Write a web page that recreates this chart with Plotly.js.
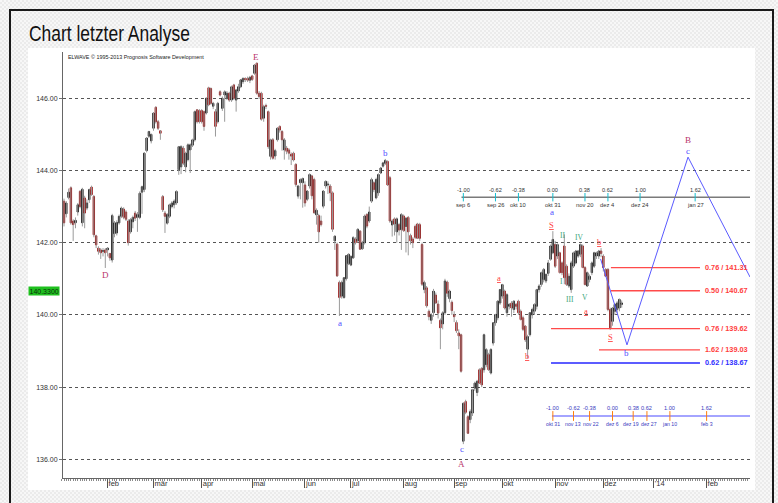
<!DOCTYPE html>
<html><head><meta charset="utf-8">
<script src="https://cdn.plot.ly/plotly-3.0.1.min.js"></script>
<style>
html,body{margin:0;padding:0;width:778px;height:503px;overflow:hidden;
 background:repeating-conic-gradient(#ebebeb 0 25%,#f7f7f7 0 50%) 0 0/4px 4px;}
#frame{position:absolute;left:9px;top:9px;width:761px;height:520px;border-left:2.5px solid #1a1a1a;border-top:2.5px solid #1a1a1a;border-right:2.5px solid #1a1a1a;}
#white{position:absolute;left:28px;top:48px;width:727px;height:442px;background:#fff;}
#chart{position:absolute;left:0;top:0;width:778px;height:503px;}
</style></head><body>
<div id="frame"></div><div id="white"></div><div id="chart"></div>
<script>
// ---- daily bars (one per weekday starting 2013-01-07) ----
const openP = [143.15,142.80,143.25,143.52,142.60,142.55,142.85,143.42,142.55,143.24,142.96,143.19,143.54,143.28,142.19,141.85,141.80,141.76,141.80,141.80,141.70,141.52,142.25,142.27,142.55,142.73,142.93,142.85,142.60,142.30,142.58,142.82,142.70,142.70,143.40,143.47,144.55,144.95,144.82,145.17,145.75,145.35,145.10,143.28,142.82,142.54,142.73,143.00,143.05,143.10,144.02,144.10,144.62,144.10,144.30,144.57,144.70,144.85,145.68,145.66,145.66,145.63,145.59,146.29,146.27,145.78,145.63,145.35,146.18,145.72,146.09,146.00,146.14,145.95,146.37,145.95,146.20,146.32,146.46,146.55,146.55,146.50,146.62,146.69,146.97,146.14,146.14,145.45,145.80,145.63,144.39,144.85,144.40,144.85,145.22,145.08,144.57,144.62,144.57,144.45,144.48,144.17,143.29,143.66,143.66,143.60,143.20,143.57,143.85,143.75,142.77,142.75,142.60,143.01,143.57,143.60,143.57,143.38,142.05,141.96,140.90,140.52,140.48,141.00,141.42,141.38,141.58,142.10,142.05,142.32,141.83,142.00,142.78,142.60,143.15,143.66,143.24,143.38,143.93,144.12,144.20,144.25,143.80,142.49,142.66,142.30,142.50,142.36,142.74,142.45,142.70,142.20,142.10,142.45,142.52,142.50,141.95,140.70,140.75,140.10,139.85,140.06,140.55,140.30,139.85,139.75,140.06,140.91,140.45,140.35,140.00,139.79,139.50,139.45,136.50,137.60,137.18,137.10,137.28,137.97,137.85,138.48,138.52,138.48,138.62,138.90,138.39,139.22,139.78,139.92,140.33,140.52,140.66,140.06,140.24,140.33,140.15,140.29,140.38,140.10,139.92,139.69,139.05,139.45,140.00,140.10,140.24,140.70,140.84,140.98,140.94,141.15,141.54,141.72,141.95,141.63,141.72,141.44,141.91,141.35,140.80,140.70,141.35,141.44,141.63,141.68,141.91,141.31,140.80,140.98,141.17,141.35,141.63,141.63,141.77,141.63,141.26,141.26,140.15,139.82,140.10,140.15,140.19,140.29];
const highP = [143.22,143.15,143.50,143.56,142.65,142.70,143.10,143.46,143.52,143.30,143.20,143.50,143.58,143.32,142.22,141.90,141.85,141.85,141.85,141.88,141.72,142.80,142.60,142.62,142.78,143.00,142.98,142.90,142.65,142.68,142.75,142.88,142.85,143.42,143.58,144.50,144.92,145.10,145.02,145.62,145.78,145.40,145.12,143.32,142.88,142.82,143.08,143.15,143.20,143.45,144.68,144.70,144.68,144.52,144.75,144.75,144.88,145.66,145.70,145.70,145.70,145.66,146.02,146.32,146.30,145.90,145.70,145.90,146.22,146.05,146.22,146.20,146.18,146.35,146.40,146.26,146.40,146.53,146.58,146.58,146.60,146.62,146.65,146.94,146.99,146.20,146.18,145.82,145.85,145.66,144.88,144.90,144.60,145.20,145.25,145.12,144.90,144.68,144.62,144.50,144.52,144.20,143.60,143.78,143.80,143.70,143.45,143.92,143.88,143.80,142.95,142.80,142.75,143.45,143.72,143.70,143.62,143.42,142.20,142.00,140.95,140.95,141.05,141.65,141.70,141.65,142.18,142.15,142.40,142.35,142.05,142.78,142.82,143.00,143.80,143.70,143.80,143.92,144.10,144.24,144.32,144.28,143.85,142.65,142.70,142.70,142.55,142.82,142.78,142.70,142.74,142.25,142.15,142.50,142.55,142.55,142.00,140.95,140.80,140.15,140.05,140.72,140.62,140.40,139.90,140.10,141.00,140.95,140.70,140.40,140.10,139.85,139.60,139.48,137.58,137.65,137.22,137.38,137.95,138.15,138.20,138.52,138.55,139.48,139.08,138.95,139.08,139.80,140.03,140.40,140.72,140.86,140.70,140.60,140.33,140.38,140.40,140.33,140.42,140.15,139.98,139.72,139.45,140.08,140.20,140.32,140.72,140.85,141.20,141.30,141.15,141.52,141.95,142.32,142.05,141.98,141.75,141.48,142.23,141.40,141.15,141.50,141.75,141.80,141.80,141.98,141.95,141.35,141.20,141.12,141.48,141.75,141.75,141.80,141.85,141.68,141.30,141.30,140.20,140.20,140.33,140.38,140.45,140.40];
const lowP = [142.45,142.70,143.20,142.50,142.05,142.40,142.75,142.95,142.45,142.40,142.90,143.10,143.30,142.15,141.85,141.67,141.55,141.62,141.30,141.62,141.50,141.45,142.15,142.20,142.50,142.68,142.65,142.60,141.92,142.25,142.40,142.60,142.30,142.65,142.80,143.40,144.50,144.90,144.75,145.10,145.30,145.12,144.85,142.85,142.27,142.50,142.68,142.95,142.95,143.05,143.88,143.90,144.15,143.95,144.25,143.93,144.65,144.80,145.30,145.30,145.30,145.10,145.55,145.78,145.82,145.70,144.94,145.30,146.05,145.65,145.35,145.95,145.90,145.90,145.95,145.63,146.15,146.28,146.40,146.45,146.45,146.42,146.48,146.65,146.10,145.98,145.38,145.35,145.70,144.60,144.30,144.30,144.30,144.80,145.05,144.55,144.30,144.45,144.30,144.15,144.25,143.55,143.22,143.20,142.97,143.00,143.15,143.50,143.20,142.80,142.50,142.00,142.45,142.95,143.50,143.35,143.15,142.30,141.80,141.05,139.97,140.45,140.45,140.95,141.38,141.35,141.55,141.95,142.00,141.80,141.80,141.95,142.40,142.55,143.10,143.40,143.20,143.30,143.90,144.08,144.15,143.57,142.55,142.17,142.20,142.00,142.20,141.80,142.30,141.73,141.65,141.95,141.85,142.10,142.10,142.05,140.80,140.60,140.20,139.85,139.75,139.95,140.30,139.90,139.05,139.60,140.00,140.50,140.35,140.00,139.80,139.50,139.05,138.40,136.42,137.25,136.70,137.00,137.20,137.90,137.75,138.10,138.00,138.40,138.55,138.45,138.35,139.15,139.70,139.85,140.28,140.45,140.15,139.95,140.15,139.95,140.05,140.15,140.00,139.85,139.55,139.25,138.80,139.40,139.90,140.00,140.15,140.62,140.78,140.90,140.88,141.08,141.50,141.68,141.30,141.55,141.15,141.10,140.85,140.80,140.75,140.61,141.30,141.40,141.58,141.60,141.30,140.82,140.78,140.90,141.10,141.30,141.55,141.55,141.60,141.20,141.05,140.10,139.58,139.70,140.00,140.05,140.10,140.20];
const closeP = [142.55,143.10,143.40,142.55,142.50,142.62,143.05,143.00,143.48,142.82,143.10,143.47,143.33,142.22,141.94,141.76,141.72,141.78,141.72,141.85,141.58,142.75,142.55,142.56,142.73,142.96,142.70,142.65,142.00,142.64,142.70,142.68,142.78,143.37,143.55,144.48,144.90,145.08,145.00,145.59,145.35,145.17,145.03,142.91,142.73,142.78,143.05,143.10,143.15,143.42,144.66,144.66,144.20,144.48,144.71,144.71,144.85,145.63,145.35,145.35,145.35,145.22,146.00,145.82,145.86,145.86,145.22,145.86,146.09,146.00,146.18,146.14,145.95,146.32,146.00,146.23,146.32,146.51,146.55,146.52,146.50,146.58,146.52,146.92,146.14,146.05,145.42,145.77,145.78,144.66,144.85,144.34,144.55,145.17,145.12,144.85,144.85,144.53,144.48,144.40,144.29,143.61,143.57,143.75,143.78,143.10,143.43,143.89,143.30,142.83,142.90,142.30,142.50,143.43,143.70,143.62,143.38,142.37,142.18,141.08,140.48,140.90,141.03,141.64,141.68,141.62,142.14,142.00,142.37,141.82,142.00,142.74,142.46,142.85,143.75,143.47,143.75,143.89,144.07,144.21,144.28,143.60,142.60,142.60,142.52,142.66,142.35,142.78,142.33,142.68,142.30,142.05,142.00,142.15,142.12,142.12,140.85,140.90,140.25,139.95,140.00,140.66,140.33,140.05,139.64,140.06,140.94,140.60,140.66,140.12,139.95,139.56,139.42,138.44,137.55,137.30,136.72,137.32,137.93,138.11,138.16,138.11,138.06,139.45,139.04,138.48,139.04,139.78,140.01,140.38,140.70,140.84,140.19,140.56,140.29,140.19,140.38,140.24,140.06,139.87,139.60,139.31,139.40,140.06,140.15,140.29,140.70,140.80,141.17,141.26,141.12,141.44,141.91,142.09,141.35,141.95,141.17,141.17,141.03,140.84,141.07,141.44,141.72,141.77,141.77,141.95,141.31,140.84,141.17,141.07,141.44,141.72,141.72,141.77,141.70,141.31,141.07,140.15,139.64,140.19,140.29,140.33,140.43,140.33];
const lastPrice = 140.33;

// ---- month axis ----
const monthTickDates = ['2013-02-01','2013-03-01','2013-04-01','2013-05-01','2013-06-03','2013-07-01','2013-08-01','2013-09-02','2013-10-01','2013-11-01','2013-12-02','2014-01-01','2014-02-03'];
const monthLabels = ['feb','mär','apr','mai','jun','jul','aug','sep','okt','nov','dez',"'14",'feb'];
const yTicks = [136,138,140,142,144,146];

// ---- projection path (bar index, price) ----
const projIdx = [233.8,245.3,271.9,298.9];
const projPrice = [141.55,139.17,144.37,141.05];

// ---- Fibonacci price targets ----
const fibRatio = ['0.76','0.50','0.76','1.62','0.62'];
const fibLevel = [141.31,140.67,139.62,139.03,138.67];
const fibStartIdx = [238.3,238.3,212.2,233.1,212.2];
const fibColor = ['#ff4a4a','#ff4a4a','#ff4a4a','#ff4a4a','#5c5cff'];

// ---- time rulers ----
const rulerTopVals = ['-1.00','-0.62','-0.38','0.00','0.38','0.62','1.00','1.62'];
const rulerTopDates = ['2013-09-06','2013-09-26','2013-10-10','2013-10-31','2013-11-20','2013-12-04','2013-12-24','2014-01-27'];
const rulerTopLabels = ['sep 6','sep 26','okt 10','okt 31','nov 20','dez 4','dez 24','jan 27'];
const rulerTopPrice = 143.26;
const rulerBotVals = ['-1.00','-0.62','-0.38','0.00','0.38','0.62','1.00','1.62'];
const rulerBotDates = ['2013-10-31','2013-11-13','2013-11-22','2013-12-06','2013-12-19','2013-12-27','2014-01-10','2014-02-03'];
const rulerBotLabels = ['okt 31','nov 13','nov 22','dez 6','dez 19','dez 27','jan 10','feb 3'];
const rulerBotPrice = 137.20;

// ---- wave labels: text, bar index, price, kind ----
const waveText = ['E','D','a','b','c','A','<u>a</u>','<u>b</u>','<u>S</u>','I','II','III','IV','V','<u>a</u>','<u>b</u>','<u>S</u>','b','B','c','a'];
const waveIdx  = [83.7,17.9,120.3,139.9,173.4,173.4,189.5,201.7,212.6,216.6,217.0,220.5,224.4,227.0,227.5,233.0,238.3,245.3,271.9,271.9,212.6];
const wavePrice= [147.14,141.11,139.78,144.48,136.29,135.87,141.02,138.86,142.48,140.93,142.21,140.44,142.15,140.49,140.12,142.02,139.40,138.95,144.84,144.53,142.85];
const waveKind = ['M','M','B','B','B','M','R','R','R','G','G','G','G','G','R','R','R','B','M','B','B'];

// helpers
const START = Date.UTC(2013,0,7);
function dateOf(i){
  const w = Math.floor(i), f = i - w;
  const ms = START + (Math.floor(w/5)*7 + (w%5) + f)*86400000;
  return new Date(ms).toISOString().slice(0,16).replace('T',' ');
}
const xDates = openP.map((_,k)=>dateOf(k));
const bodyHi = openP.map((o,k)=>Math.max(o,closeP[k]));
const bodyLo = openP.map((o,k)=>Math.min(o,closeP[k]));

const traces = [];
traces.push({type:'ohlc', x:xDates, open:openP, high:highP, low:lowP, close:closeP,
  tickwidth:0, hoverinfo:'skip',
  increasing:{line:{color:'#9a9a9a',width:1}}, decreasing:{line:{color:'#9a9a9a',width:1}}});
traces.push({type:'candlestick', x:xDates, open:openP, high:bodyHi, low:bodyLo, close:closeP,
  whiskerwidth:0, hoverinfo:'skip',
  increasing:{line:{color:'#0d0d0d',width:1}, fillcolor:'#0d0d0d'},
  decreasing:{line:{color:'#960a0a',width:1}, fillcolor:'#960a0a'}});

// fib lines
const fibEnd = dateOf(277.1);
fibLevel.forEach((lv,k)=>{
  traces.push({type:'scatter', mode:'lines', x:[dateOf(fibStartIdx[k]), fibEnd], y:[lv,lv],
    line:{color:fibColor[k], width: k===4?2:1.4}, hoverinfo:'skip'});
});
// projection path
traces.push({type:'scatter', mode:'lines', x:projIdx.map(dateOf), y:projPrice,
  line:{color:'#5a5aff', width:1}, hoverinfo:'skip'});
// rulers
const rEnd = dateOf(298.9);
traces.push({type:'scatter', mode:'lines', x:[dateOf(173.2), rEnd], y:[rulerTopPrice,rulerTopPrice],
  line:{color:'#7a7a7a', width:1.4}, hoverinfo:'skip'});
traces.push({type:'scatter', mode:'markers', x:rulerTopDates, y:rulerTopDates.map(()=>rulerTopPrice),
  marker:{symbol:'line-ns-open', size:6, line:{color:'#555', width:1}}, hoverinfo:'skip'});
traces.push({type:'scatter', mode:'lines', x:[dateOf(212.6), rEnd], y:[rulerBotPrice,rulerBotPrice],
  line:{color:'#a4a4ff', width:2.2}, hoverinfo:'skip'});
traces.push({type:'scatter', mode:'markers', x:rulerBotDates, y:rulerBotDates.map(()=>rulerBotPrice),
  marker:{symbol:'line-ns-open', size:7, line:{color:'#4a4acc', width:1}}, hoverinfo:'skip'});

const ann = [];
ann.push({xref:'paper', yref:'paper', x:0.004, y:0.988, xanchor:'left', yanchor:'middle', showarrow:false,
  text:'ELWAVE © 1995-2013 Prognosis Software Development', font:{size:5.4, color:'#222'}});
ann.push({xref:'paper', yref:'y', x:0, xshift:-3, y:lastPrice, yshift:12, xanchor:'right', yanchor:'middle', showarrow:false,
  text:lastPrice.toFixed(4), bgcolor:'#1fc01f', borderpad:0.5, font:{size:7, color:'#0b300b'}});
fibLevel.forEach((lv,k)=>{
  ann.push({x:dateOf(278.4), y:lv, xanchor:'left', yanchor:'middle', showarrow:false,
    text:'<b>'+fibRatio[k]+' / '+lv.toFixed(2)+'</b>', font:{size:7.3, color: k===4?'#2f2fff':'#ff3d3d'}});
});
rulerTopDates.forEach((d,k)=>{
  ann.push({x:d, y:rulerTopPrice, yshift:7.5, showarrow:false, text:rulerTopVals[k], font:{size:5.6,color:'#333'}});
  ann.push({x:d, y:rulerTopPrice, yshift:-8, showarrow:false, text:rulerTopLabels[k], font:{size:5.8,color:'#333'}});
});
const botShift = [0,-1,1,0,-2,2,0,0];
rulerBotDates.forEach((d,k)=>{
  ann.push({x:d, y:rulerBotPrice, yshift:7.5, showarrow:false, text:rulerBotVals[k], font:{size:5.6,color:'#3a3ac0'}});
  ann.push({x:d, y:rulerBotPrice, yshift:-8, xshift:botShift[k], showarrow:false, text:rulerBotLabels[k], font:{size:5.2,color:'#3a3ac0'}});
});
const kindStyle = {M:{c:'#b8346b',s:9}, B:{c:'#5050ff',s:9}, R:{c:'#ff4040',s:8.5}, G:{c:'#3aa57a',s:7.5}};
waveText.forEach((t,k)=>{
  const st = kindStyle[waveKind[k]];
  ann.push({x:dateOf(waveIdx[k]), y:wavePrice[k], showarrow:false, xanchor:'center', yanchor:'middle',
    text:t.replace('<u>','<span style="text-decoration:underline">').replace('</u>','</span>'),
    font:{family:'Liberation Serif, Times New Roman, serif', size:st.s, color:st.c}});
});

const layout = {
  width:778, height:503,
  paper_bgcolor:'rgba(0,0,0,0)', plot_bgcolor:'rgba(0,0,0,0)',
  margin:{l:63, r:28, t:52, b:25},
  showlegend:false, boxgap:0.15,
  font:{family:'Liberation Sans, Arial, sans-serif', size:8, color:'#333'},
  title:{text:'Chart letzter Analyse', xref:'container', yref:'container', x:29/778, xanchor:'left', y:1-33/503, yanchor:'middle',
    font:{family:'Liberation Sans, Arial', size:21.5, color:'#111'}},
  xaxis:{type:'date', range:['2013-01-04 13:32','2014-02-27 21:36'], rangebreaks:[{bounds:['sat','mon']}],
    rangeslider:{visible:false}, fixedrange:true, showgrid:false, zeroline:false,
    showline:true, linecolor:'#666', linewidth:1,
    tickmode:'array', tickvals:monthTickDates, ticktext:monthLabels,
    ticks:'outside', ticklen:9, tickcolor:'#555', tickwidth:1,
    ticklabelposition:'outside right', ticklabelstandoff:-2,
    tickfont:{size:7.5, color:'#333'},
    minor:{ticks:'outside', ticklen:2, tickcolor:'#8a8a8a', dtick:86400000, showgrid:false}},
  yaxis:{range:[135.482,147.282], tickmode:'array', tickvals:yTicks, ticktext:yTicks.map(v=>v.toFixed(2)),
    fixedrange:true, showgrid:true, gridcolor:'#555', griddash:'dot', gridwidth:1, zeroline:false,
    showline:true, linecolor:'#666', linewidth:1, ticks:'outside', ticklen:3, tickcolor:'#777',
    tickfont:{size:7, color:'#333'}},
  annotations:ann
};
Plotly.newPlot('chart', traces, layout, {displayModeBar:false, staticPlot:true}).then(gd=>{
  // the reference title uses a condensed face: squeeze it horizontally around its left edge
  const t = gd.querySelector('.g-gtitle text');
  if (t){
    const x0 = parseFloat(t.getAttribute('x')) || 29;
    const w = t.getComputedTextLength ? t.getComputedTextLength() : 200;
    const s = Math.min(1, 161 / w);
    t.setAttribute('transform', 'matrix(' + s + ',0,0,1,' + (x0*(1-s)) + ',0)');
  }
});
</script>
</body></html>
